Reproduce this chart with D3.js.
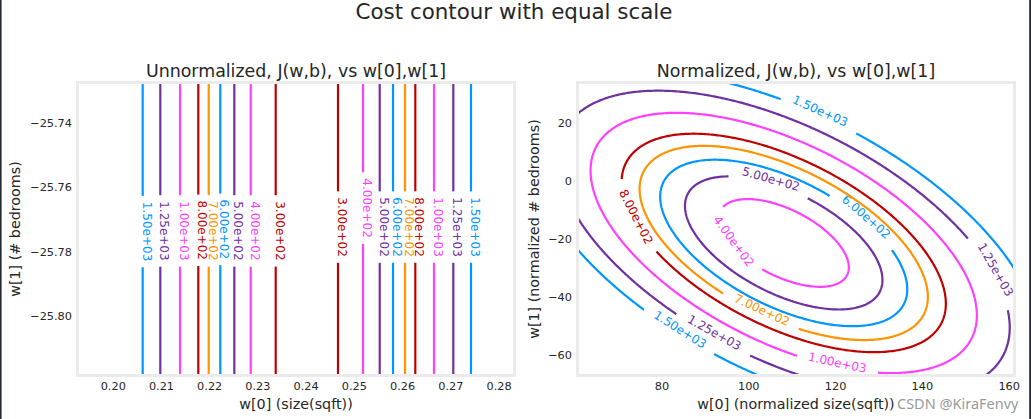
<!DOCTYPE html>
<html><head><meta charset="utf-8">
<script src="https://cdn.jsdelivr.net/npm/d3@7"></script>
<style>
body{margin:0;background:#fff}
svg{display:block}
</style>
</head><body>
<svg id="chart" width="1031" height="419"></svg>
<script>
// ---------------- data ----------------
const suptitle = "Cost contour with equal scale";
const levels      = [300, 400, 500, 600, 700, 800, 1000, 1250, 1500];
const levelLabels = ["3.00e+02","4.00e+02","5.00e+02","6.00e+02","7.00e+02","8.00e+02","1.00e+03","1.25e+03","1.50e+03"];
const levelColors = ["#C00000","#FF40FF","#7030A0","#0096FF","#FF9300","#C00000","#FF40FF","#7030A0","#0096FF"];

// Unnormalized panel: cost depends only on w[0]; contour crossings (w[0]) on each side
const unTitle = "Unnormalized, J(w,b), vs w[0],w[1]";
const unXLabel = "w[0] (size(sqft))";
const unYLabel = "w[1] (# bedrooms)";
const unXDomain = [0.193, 0.283];
const unYDomain = [-25.818, -25.728];
const unXTicks = [0.20, 0.21, 0.22, 0.23, 0.24, 0.25, 0.26, 0.27, 0.28];
const unYTicks = [-25.80, -25.78, -25.76, -25.74];
const unW0Low  = [0.23379, 0.22861, 0.22521, 0.22230, 0.21990, 0.21774, 0.21395, 0.20986, 0.20621];
const unW0High = [0.24671, 0.25190, 0.25536, 0.25812, 0.26061, 0.26274, 0.26662, 0.27062, 0.27429];
const unLabelW1Low  = [-25.7736, -25.7736, -25.7736, -25.7731, -25.7736, -25.7734, -25.7736, -25.7736, -25.7738];
const unLabelW1High = [-25.7724, -25.7665, -25.7724, -25.7724, -25.7724, -25.7724, -25.7724, -25.7724, -25.7724];

// Normalized panel
const nTitle = "Normalized, J(w,b), vs w[0],w[1]";
const nXLabel = "w[0] (normalized size(sqft))";
const nYLabel = "w[1] (normalized # bedrooms)";
const nXDomain = [61, 161];
const nYDomain = [-66.75, 33.25];
const nXTicks = [80, 100, 120, 140, 160];
const nYTicks = [-60, -40, -20, 0, 20];
// points: level, w[0], w[1]
const nPtLevel = [1500,1500,1500,1500,1500,1500, 1250,1250,1250,1250,1250,1250,1250, 1000,1000,1000,1000, 800,800,800, 700,700, 600,600, 500,500, 400,400,400,400,400];
const nPtW0 = [106.92,124.20,76.21,91.58,61.23,95.40, 84.27,99.64,151.48,159.55,61.23,61.23,78.12, 110.77,130.75,151.55,79.66, 70.84,77.75,83.51, 94.25,111.53, 119.59,132.66, 95.40,114.23, 93.88,101.55,123.44,101.55,115.38];
const nPtW1 = [28.32,16.80,-45.27,-59.06,-24.58,33.15, -46.41,-60.78,-21.13,-42.96,23.70,-13.65,31.18, -60.20,-65.95,-37.78,23.25, -1.58,-22.85,16.25, -38.92,-51.34, -6.16,-23.99, 1.63,-6.51, -9.61,-29.51,-29.85,-6.51,-35.37];
// label anchor points on contours
const nLabelLevel = [1500, 1500, 1250, 1250, 1000, 800, 700, 600, 500, 400];
const nLabelW0    = [116.1, 84.1, 155.5, 92.0, 120.6, 74.6, 102.95, 126.0, 104.8, 97.8];
const nLabelW1    = [21.8, -51.6, -31.9, -53.0, -63.5, -12.2, -45.5, -15.0, -2.55, -19.4];

const watermark = "CSDN @KiraFenvy";

// ---------------- quadratic cost surface fitted to the read points ----------------
const U0 = 110, V0 = -20;
function feats(w0,w1){ const u=w0-U0, v=w1-V0; return [1,u,v,u*u,u*v,v*v]; }
function fitQuadratic(){
  const M = Array.from({length:6},()=>new Array(7).fill(0));
  nPtLevel.forEach((L,k)=>{
    const f = feats(nPtW0[k], nPtW1[k]);
    for(let i=0;i<6;i++){ for(let j=0;j<6;j++) M[i][j]+=f[i]*f[j]; M[i][6]+=f[i]*L; }
  });
  for(let c=0;c<6;c++){
    let p=c; for(let r=c+1;r<6;r++) if(Math.abs(M[r][c])>Math.abs(M[p][c])) p=r;
    [M[c],M[p]]=[M[p],M[c]];
    for(let r=0;r<6;r++){ if(r===c) continue; const fct=M[r][c]/M[c][c]; for(let j=c;j<7;j++) M[r][j]-=fct*M[c][j]; }
  }
  return M.map((row,i)=>row[6]/row[i]);
}
const coef = fitQuadratic();
const cost = (w0,w1)=>{ const f=feats(w0,w1); let s=0; for(let i=0;i<6;i++) s+=coef[i]*f[i]; return s; };

// ---------------- layout ----------------
const FONT = "'DejaVu Sans', sans-serif";
const TXT = "#262626";
const svg = d3.select("#chart");
svg.append("rect").attr("width",1031).attr("height",419).attr("fill","#fff");
svg.append("rect").attr("x",0).attr("y",0).attr("width",1.6).attr("height",419).attr("fill","#242a33");
svg.append("rect").attr("x",1029.2).attr("y",0).attr("width",1.8).attr("height",419).attr("fill","#242a33");

svg.append("text").attr("x",514).attr("y",19).attr("text-anchor","middle")
  .attr("font-family",FONT).attr("font-size",21.4).attr("fill",TXT).text(suptitle);

const boxL = {x:79, y:84, w:434, h:290};
const boxR = {x:579, y:84, w:434, h:290};

function frame(box, title, xl, yl, ylx){
  svg.append("rect").attr("x",box.x-1.5).attr("y",box.y-1.5).attr("width",box.w+3).attr("height",box.h+3)
    .attr("fill","#fff").attr("stroke","#ebebeb").attr("stroke-width",3);
  svg.append("text").attr("x",box.x+box.w/2).attr("y",box.y-7.5).attr("text-anchor","middle")
    .attr("font-family",FONT).attr("font-size",17.4).attr("fill",TXT).text(title);
  svg.append("text").attr("x",box.x+box.w/2).attr("y",408.5).attr("text-anchor","middle")
    .attr("font-family",FONT).attr("font-size",14.3).attr("fill",TXT).text(xl);
  svg.append("text").attr("transform",`translate(${ylx},${box.y+box.h/2}) rotate(-90)`).attr("text-anchor","middle")
    .attr("font-family",FONT).attr("font-size",14.3).attr("fill",TXT).text(yl);
}
frame(boxL, unTitle, unXLabel, unYLabel, 20);
frame(boxR, nTitle, nXLabel, nYLabel, 539);

function axes(box, xs, ys, xt, yt, xf, yf){
  const gx = svg.append("g").attr("transform",`translate(0,${box.y+box.h})`)
    .call(d3.axisBottom(xs).tickValues(xt).tickFormat(d3.format(xf)).tickSize(0).tickPadding(8));
  const gy = svg.append("g").attr("transform",`translate(${box.x},0)`)
    .call(d3.axisLeft(ys).tickValues(yt).tickFormat(d3.format(yf)).tickSize(0).tickPadding(7));
  [gx,gy].forEach(g=>{
    g.select(".domain").remove();
    g.selectAll("text").attr("font-family",FONT).attr("font-size",11.3).attr("fill",TXT);
  });
}

// ---------------- left panel ----------------
const xL = d3.scaleLinear().domain(unXDomain).range([boxL.x, boxL.x+boxL.w]);
const yL = d3.scaleLinear().domain(unYDomain).range([boxL.y+boxL.h, boxL.y]);
axes(boxL, xL, yL, unXTicks, unYTicks, ".2f", ".2f");

const LW = 2.2, LFS = 12;
function measure(str){
  const t = svg.append("text").attr("font-family",FONT).attr("font-size",LFS).text(str);
  const w = t.node().getComputedTextLength(); t.remove(); return w;
}
const gLeft = svg.append("g");
levels.forEach((lv,i)=>{
  [[unW0Low[i], unLabelW1Low[i]],[unW0High[i], unLabelW1High[i]]].forEach(([w0,w1])=>{
    const px = xL(w0), py = yL(w1);
    const tw = measure(levelLabels[i]);
    const h = tw/2 + 6;
    gLeft.append("line").attr("x1",px).attr("x2",px).attr("y1",boxL.y).attr("y2",py-h)
      .attr("stroke",levelColors[i]).attr("stroke-width",LW);
    gLeft.append("line").attr("x1",px).attr("x2",px).attr("y1",py+h).attr("y2",boxL.y+boxL.h)
      .attr("stroke",levelColors[i]).attr("stroke-width",LW);
    gLeft.append("text").attr("transform",`translate(${px},${py}) rotate(90)`)
      .attr("text-anchor","middle").attr("font-family",FONT).attr("font-size",LFS)
      .attr("fill",levelColors[i]).text(levelLabels[i]);
  });
});

// ---------------- right panel ----------------
const xR = d3.scaleLinear().domain(nXDomain).range([boxR.x, boxR.x+boxR.w]);
const yR = d3.scaleLinear().domain(nYDomain).range([boxR.y+boxR.h, boxR.y]);
axes(boxR, xR, yR, nXTicks, nYTicks, "d", "d");

svg.append("clipPath").attr("id","clipR").append("rect")
  .attr("x",boxR.x).attr("y",boxR.y).attr("width",boxR.w).attr("height",boxR.h);
const gRight = svg.append("g").attr("clip-path","url(#clipR)");

const NX = 300, NY = 300, MARG = 12;
const gx0 = nXDomain[0]-MARG, gx1 = nXDomain[1]+MARG;
const gy0 = nYDomain[0]-MARG, gy1 = nYDomain[1]+MARG;
const sx = (gx1-gx0)/(NX-1), sy = (gy1-gy0)/(NY-1);
const grid = new Array(NX*NY);
for(let j=0;j<NY;j++) for(let i=0;i<NX;i++) grid[j*NX+i] = cost(gx0+i*sx, gy0+j*sy);
const contours = d3.contours().size([NX,NY]).thresholds(levels)(grid);

const lineGen = d3.line();
const strokePath = (pts)=>gRight.append("path").attr("d",lineGen(pts)).attr("fill","none")
  .attr("stroke-width",LW).attr("stroke-linejoin","round");
contours.forEach(c=>{
  const li = levels.indexOf(c.value);
  if(li<0) return;
  const col = levelColors[li];
  const rings = [];
  c.coordinates.forEach(poly=>poly.forEach(ring=>{
    const pts = ring.slice(0, ring.length-1).map(g=>[xR(gx0+(g[0]-0.5)*sx), yR(gy0+(g[1]-0.5)*sy)]);
    if(pts.length>2) rings.push(pts);
  }));
  const info = rings.map(pts=>{
    const n = pts.length, s = new Array(n); s[0]=0;
    for(let k=1;k<n;k++) s[k]=s[k-1]+Math.hypot(pts[k][0]-pts[k-1][0],pts[k][1]-pts[k-1][1]);
    const T = s[n-1]+Math.hypot(pts[0][0]-pts[n-1][0],pts[0][1]-pts[n-1][1]);
    return {pts,s,T,labels:[]};
  });
  nLabelLevel.forEach((lv,k)=>{
    if(lv!==c.value) return;
    const ax = xR(nLabelW0[k]), ay = yR(nLabelW1[k]);
    let best=null, bd=Infinity;
    info.forEach(r=>r.pts.forEach((p,idx)=>{
      const d = Math.hypot(p[0]-ax,p[1]-ay);
      if(d<bd){bd=d;best={r,idx};}
    }));
    if(best) best.r.labels.push({s0: best.r.s[best.idx], w: measure(levelLabels[li])});
  });
  info.forEach(r=>{
    const {pts,s,T,labels} = r; const n = pts.length;
    const pointAt = (q)=>{
      q = ((q%T)+T)%T;
      let k = d3.bisectRight(s,q)-1; if(k<0) k=0;
      const a = pts[k], b = pts[(k+1)%n];
      const segLen = (k+1<n ? s[k+1] : T) - s[k];
      const t = segLen>0 ? (q-s[k])/segLen : 0;
      return [a[0]+(b[0]-a[0])*t, a[1]+(b[1]-a[1])*t];
    };
    if(labels.length===0){
      gRight.append("path").attr("d", d3.line().curve(d3.curveLinearClosed)(pts))
        .attr("fill","none").attr("stroke",col).attr("stroke-width",LW);
      return;
    }
    const gap = pts.map((p,k)=>labels.some(L=>{
      let d = Math.abs(s[k]-L.s0); d = Math.min(d, T-d);
      return d < L.w/2 + 11;
    }));
    const g0 = gap.indexOf(true);
    let run = [];
    for(let m=0;m<=n;m++){
      const k = (g0+m)%n;
      if(!gap[k]) run.push(pts[k]);
      else { if(run.length>1) strokePath(run).attr("stroke",col); run=[]; }
    }
    if(run.length>1) strokePath(run).attr("stroke",col);
    labels.forEach(L=>{
      const p = pointAt(L.s0), a = pointAt(L.s0-L.w/2), b = pointAt(L.s0+L.w/2);
      let ang = Math.atan2(b[1]-a[1], b[0]-a[0])*180/Math.PI;
      if(ang>90) ang-=180; if(ang<=-90) ang+=180;
      gRight.append("text").attr("transform",`translate(${p[0]},${p[1]}) rotate(${ang})`)
        .attr("text-anchor","middle").attr("font-family",FONT).attr("font-size",LFS)
        .attr("fill",col).text(levelLabels[li]);
    });
  });
});

svg.append("text").attr("x",897).attr("y",409).attr("font-family","'Noto Sans', sans-serif")
  .attr("font-size",14.5).attr("fill","#9a9a9a").text(watermark);
</script>
</body></html>
